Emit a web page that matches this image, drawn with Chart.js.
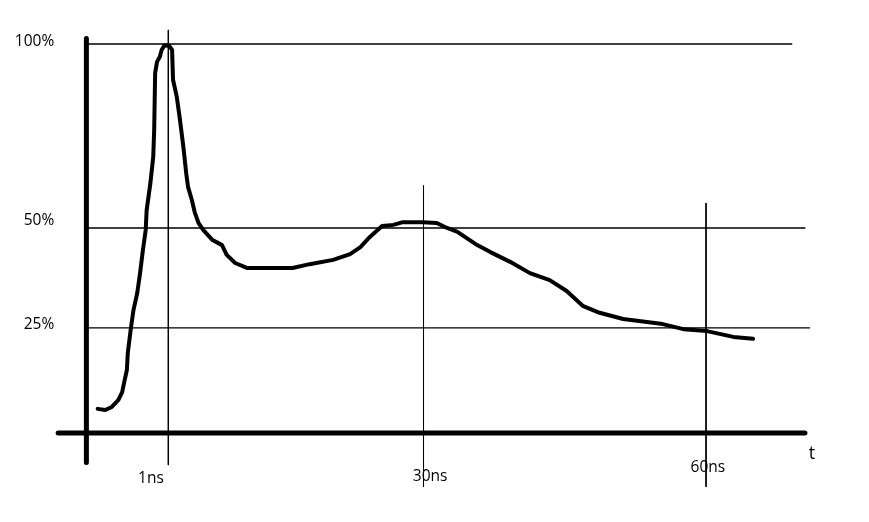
<!DOCTYPE html>
<html>
<head>
<meta charset="utf-8">
<script src="https://cdn.jsdelivr.net/npm/chart.js@4"></script>
<style>
  html, body { margin: 0; padding: 0; background: #fff; }
  #wrap { width: 869px; height: 522px; }
</style>
</head>
<body>
<div id="wrap"><canvas id="sketch" width="869" height="522"></canvas></div>
<script>
// hand drawn pulse: x in ns (sketch scale), y in % of peak, 0 on the t axis
const curveT = [-4.6, -3.8, -3.1, -2.4, -2.0, -1.8, -1.5, -1.4, -1.1, -0.8, -0.4, -0.1, 0.2, 0.5, 0.6,
  1.0, 1.3, 1.4, 1.5, 1.7, 2.0, 2.2, 2.5, 3.0, 3.3, 3.4, 3.8, 4.1, 4.5, 4.8, 5.0, 5.4, 5.7, 6.1, 6.6,
  7.6, 8.6, 9.1, 10.0, 11.3, 13.4, 16.1, 17.9, 20.4, 22.2, 23.3, 24.3, 25.6, 26.8, 27.8, 29.9, 31.4,
  32.5, 33.6, 35.5, 37.1, 39.2, 41.3, 43.4, 45.2, 46.9, 48.7, 51.2, 55.4, 57.6, 60.1, 62.9, 65.0];
const curveV = [6.2, 5.9, 6.7, 8.5, 10.5, 12.9, 16.2, 20.6, 26.5, 31.6, 36.0, 41.1, 47.0, 52.2, 57.3,
  64.3, 71.0, 77.9, 92.5, 95.4, 96.7, 98.5, 99.7, 99.5, 98.5, 90.8, 86.4, 81.2, 73.5, 66.8, 63.2, 59.9,
  56.8, 54.0, 52.2, 49.6, 48.3, 45.8, 43.7, 42.4, 42.4, 42.4, 43.4, 44.5, 46.0, 47.8, 50.4, 53.2, 53.5,
  54.2, 54.2, 54.0, 52.7, 51.7, 48.6, 46.5, 44.0, 41.1, 39.3, 36.5, 32.7, 30.9, 29.3, 28.0, 26.7, 26.2,
  24.7, 24.2];

const yTickValues = [100.5, 54.5, 27.8];
const yTickLabels = ['100%', '50%', '25%'];
const xTickLabels = ['1ns', '30ns', '60ns'];
const axisName = 't';

// reference lines
const levelValues = [100, 52.7, 27.0];
const levelEnds = [69.1, 70.5, 71.0];
const markerTimes = [2.9, 30, 60];
const markerTops = [103.6, 63.6, 59.1];
const markerBottoms = [-8.2, -13.8, -13.8];

// axes drawn as strokes
const axisX0 = -5.8;   // where the vertical axis stands
const axisXEnd = 70.5;
const axisXStart = -8.8;
const axisYTop = 101.4;
const axisYBottom = -7.6;

const sketchLabels = {
  id: 'sketchLabels',
  afterDatasetsDraw(chart, args, opts) {
    const { ctx, scales: { x, y } } = chart;
    ctx.save();
    ctx.fillStyle = opts.color;
    ctx.textAlign = 'center';
    ctx.textBaseline = 'alphabetic';
    opts.items.forEach(it => {
      ctx.font = it.size + 'px ' + opts.family;
      ctx.fillText(it.text, x.getPixelForValue(it.x), y.getPixelForValue(it.y));
    });
    ctx.restore();
  }
};

function stroke(points, width, order) {
  return {
    data: points,
    borderColor: '#000',
    borderWidth: width,
    borderCapStyle: 'round',
    borderJoinStyle: 'round',
    pointRadius: 0,
    tension: 0,
    fill: false,
    clip: false,
    order: order
  };
}

const datasets = [];
datasets.push(stroke(curveT.map((t, i) => ({ x: t, y: curveV[i] })), 4, 0));
datasets.push(stroke([{ x: axisX0, y: axisYTop }, { x: axisX0, y: axisYBottom }], 5, 1));
datasets.push(stroke([{ x: axisXStart, y: 0 }, { x: axisXEnd, y: 0 }], 5, 1));
levelValues.forEach((v, i) => {
  datasets.push(stroke([{ x: axisX0, y: v }, { x: levelEnds[i], y: v }], 1.3, 2));
});
markerTimes.forEach((t, i) => {
  datasets.push(stroke([{ x: t, y: markerTops[i] }, { x: t, y: markerBottoms[i] }], 1, 2));
});

new Chart(document.getElementById('sketch'), {
  type: 'line',
  data: { datasets: datasets },
  plugins: [sketchLabels],
  options: {
    responsive: false,
    animation: false,
    devicePixelRatio: 1,
    layout: { padding: { top: 20.66, right: 21.7, bottom: 30.65, left: 0 } },
    plugins: {
      legend: { display: false },
      tooltip: { enabled: false },
      sketchLabels: {
        color: '#000',
        family: '"Open Sans", sans-serif',
        items: [
          { text: xTickLabels[0], x: 1.06, y: -12.85, size: 15.5 },
          { text: xTickLabels[1], x: 30.7, y: -12.3, size: 15.5 },
          { text: xTickLabels[2], x: 60.2, y: -9.9, size: 15.5 },
          { text: axisName, x: 71.25, y: -6.7, size: 18 }
        ]
      }
    },
    scales: {
      x: { type: 'linear', display: false, min: -9.0, max: 75 },
      y: {
        type: 'linear',
        min: -15,
        max: 106,
        grid: { display: false, drawTicks: false },
        border: { display: false },
        afterFit(scale) { scale.width = 56.25; },
        afterBuildTicks(scale) { scale.ticks = yTickValues.map(v => ({ value: v })); },
        ticks: {
          autoSkip: false,
          padding: 2,
          color: '#000',
          font: { family: '"Open Sans", sans-serif', size: 15.5 },
          callback: (value) => yTickLabels[yTickValues.indexOf(value)]
        }
      }
    }
  }
});
</script>
</body>
</html>
